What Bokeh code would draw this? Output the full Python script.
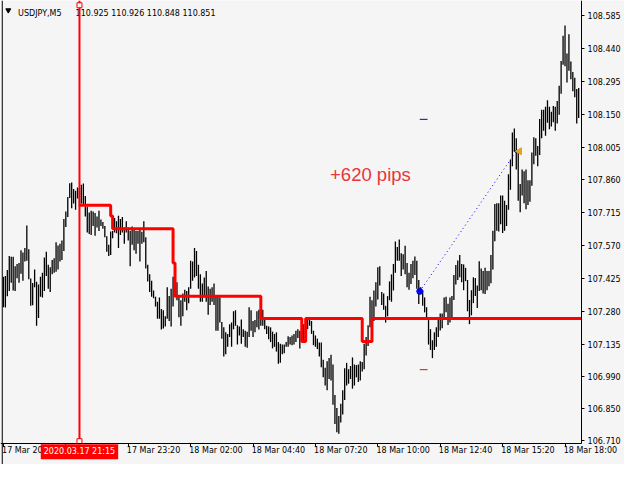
import numpy as np
from bokeh.plotting import figure
from bokeh.models import (FixedTicker, Span, Label, Range1d, PrintfTickFormatter,
                          ColumnDataSource, LinearAxis)
from bokeh.core.properties import value
from bokeh.embed import file_html
from bokeh.resources import INLINE

# ---------------- data ----------------
symbol = "USDJPY,M5"
header_prices = "110.925 110.926 110.848 110.851"

bar_high = [
    107.432, 107.436, 107.462, 107.524, 107.521, 107.521, 107.479, 107.489, 107.493, 107.550,
    107.540, 107.560, 107.659, 107.554, 107.425, 107.405, 107.465, 107.410, 107.398, 107.432,
    107.450, 107.517, 107.543, 107.486, 107.474, 107.507, 107.514, 107.585, 107.571, 107.578,
    107.593, 107.688, 107.721, 107.785, 107.846, 107.849, 107.820, 107.813, 107.827, 107.825,
    107.839, 107.844, 107.789, 107.742, 107.716, 107.724, 107.721, 107.714, 107.699, 107.724,
    107.685, 107.674, 107.657, 107.611, 107.574, 107.632, 107.635, 107.692, 107.678, 107.702,
    107.688, 107.696, 107.650, 107.678, 107.650, 107.635, 107.654, 107.642, 107.635, 107.635,
    107.642, 107.631, 107.678, 107.607,
    107.486, 107.443, 107.415, 107.372, 107.344, 107.322, 107.341, 107.290, 107.284, 107.258,
    107.386, 107.347, 107.379, 107.432, 107.408, 107.408, 107.347, 107.329, 107.358, 107.375,
    107.369, 107.386, 107.503, 107.500, 107.560, 107.546, 107.486, 107.443, 107.403, 107.429,
    107.458, 107.389, 107.379, 107.386, 107.403, 107.347, 107.344, 107.341, 107.233, 107.209,
    107.187, 107.180, 107.223, 107.230, 107.280, 107.284, 107.218, 107.213, 107.244, 107.201,
    107.194, 107.190, 107.298, 107.284, 107.237, 107.241, 107.280, 107.287, 107.298, 107.287,
    107.247, 107.216, 107.213, 107.209, 107.190, 107.180, 107.187, 107.144, 107.137, 107.133,
    107.133, 107.144, 107.170, 107.166, 107.173,
    107.180, 107.194, 107.201, 107.194, 107.244, 107.223, 107.251, 107.255, 107.255, 107.237,
    107.194, 107.173, 107.159, 107.142, 107.142, 107.066, 107.031, 107.059, 107.073, 107.088,
    107.045, 106.910, 106.853, 106.817, 106.871, 106.931, 107.028, 107.052, 107.024, 107.038,
    107.076, 107.045, 107.042, 107.045, 107.059, 107.056, 107.137, 107.166, 107.218, 107.344,
    107.329, 107.372, 107.408, 107.475, 107.479, 107.365, 107.358, 107.304, 107.347, 107.412,
    107.443, 107.489, 107.588, 107.564, 107.597, 107.536, 107.532, 107.569, 107.493, 107.450,
    107.489, 107.503, 107.522, 107.503, 107.418, 107.386, 107.372, 107.341, 107.298, 107.247,
    107.201, 107.152, 107.187, 107.209, 107.251,
    107.270, 107.270, 107.341, 107.344, 107.313, 107.341, 107.347, 107.440, 107.484, 107.504,
    107.529, 107.489, 107.487, 107.472, 107.418, 107.330, 107.373, 107.430, 107.427, 107.394,
    107.501, 107.469, 107.458, 107.472, 107.458, 107.458, 107.529, 107.636, 107.754, 107.757,
    107.757, 107.792, 107.792, 107.768, 107.750, 107.885, 107.949, 108.070, 108.087, 108.044,
    107.987, 107.842, 107.906, 107.899, 107.906, 107.859, 107.859, 107.982, 108.049, 108.044,
    108.010, 108.130, 108.170, 108.170, 108.184, 108.212, 108.184, 108.162, 108.187, 108.184,
    108.209, 108.276, 108.386, 108.497, 108.542, 108.419, 108.504, 108.383, 108.337, 108.312,
    108.262, 108.266,
]

bar_low = [
    107.298, 107.297, 107.346, 107.369, 107.406, 107.372, 107.369, 107.426, 107.406, 107.446,
    107.415, 107.500, 107.503, 107.422, 107.304, 107.307, 107.386, 107.216, 107.250, 107.344,
    107.341, 107.369, 107.436, 107.379, 107.365, 107.443, 107.450, 107.455, 107.465, 107.500,
    107.507, 107.546, 107.652, 107.696, 107.780, 107.735, 107.756, 107.728, 107.778, 107.742,
    107.756, 107.745, 107.699, 107.628, 107.621, 107.617, 107.657, 107.614, 107.650, 107.635,
    107.657, 107.645, 107.607, 107.543, 107.524, 107.529, 107.603, 107.628, 107.625, 107.560,
    107.617, 107.628, 107.578, 107.628, 107.593, 107.479, 107.574, 107.550, 107.534, 107.578,
    107.500, 107.578, 107.585, 107.469,
    107.411, 107.365, 107.344, 107.337, 107.301, 107.247, 107.247, 107.199, 107.204, 107.213,
    107.247, 107.237, 107.213, 107.301, 107.344, 107.329, 107.254, 107.216, 107.258, 107.322,
    107.284, 107.315, 107.379, 107.415, 107.429, 107.436, 107.379, 107.322, 107.322, 107.341,
    107.322, 107.265, 107.308, 107.322, 107.308, 107.194, 107.194, 107.230, 107.159, 107.080,
    107.090, 107.123, 107.166, 107.123, 107.201, 107.216, 107.133, 107.173, 107.137, 107.166,
    107.123, 107.119, 107.166, 107.194, 107.166, 107.187, 107.209, 107.199, 107.216, 107.216,
    107.201, 107.180, 107.156, 107.144, 107.116, 107.123, 107.102, 107.048, 107.052, 107.090,
    107.095, 107.123, 107.123, 107.133, 107.130,
    107.133, 107.144, 107.162, 107.116, 107.144, 107.147, 107.187, 107.201, 107.216, 107.180,
    107.130, 107.123, 107.113, 107.080, 107.033, 106.988, 106.952, 106.931, 106.981, 106.974,
    106.867, 106.782, 106.746, 106.739, 106.789, 106.824, 106.888, 106.952, 106.960, 106.981,
    106.938, 106.952, 106.988, 106.967, 106.974, 107.014, 107.024, 107.085, 107.127, 107.209,
    107.244, 107.237, 107.301, 107.332, 107.394, 107.308, 107.287, 107.230, 107.258, 107.329,
    107.322, 107.372, 107.450, 107.503, 107.503, 107.436, 107.465, 107.443, 107.386, 107.375,
    107.401, 107.426, 107.440, 107.379, 107.312, 107.355, 107.304, 107.275, 107.244, 107.133,
    107.109, 107.073, 107.109, 107.123, 107.166,
    107.195, 107.205, 107.245, 107.276, 107.219, 107.230, 107.247, 107.330, 107.398, 107.418,
    107.430, 107.408, 107.373, 107.413, 107.280, 107.223, 107.262, 107.316, 107.347, 107.294,
    107.370, 107.373, 107.358, 107.356, 107.373, 107.390, 107.404, 107.465, 107.589, 107.636,
    107.632, 107.664, 107.626, 107.636, 107.657, 107.728, 107.817, 107.921, 107.985, 107.906,
    107.768, 107.717, 107.792, 107.757, 107.731, 107.750, 107.764, 107.835, 107.930, 107.967,
    107.921, 107.970, 108.044, 108.077, 108.056, 108.113, 108.084, 108.096, 108.115, 108.077,
    108.110, 108.148, 108.241, 108.369, 108.362, 108.291, 108.343, 108.305, 108.252, 108.226,
    108.110, 108.134,
]

price_ticks = [108.585, 108.440, 108.295, 108.150, 108.005, 107.860, 107.715,
               107.570, 107.425, 107.280, 107.135, 106.990, 106.850, 106.710]

time_tick_bars = [0, 32, 64, 96, 128, 160, 192, 224, 256, 288]
time_tick_labels = ["17 Mar 20:40", "", "17 Mar 23:20", "18 Mar 02:00", "18 Mar 04:40",
                    "18 Mar 07:20", "18 Mar 10:00", "18 Mar 12:40", "18 Mar 15:20",
                    "18 Mar 18:00"]

vline_bar = 39
vline_label = "2020.03.17 21:15"

red_step_bars = [39, 55, 56, 87, 88, 132, 153, 155, 184, 189, 296.5]
red_step_levels = [107.748, 107.701, 107.645, 107.493, 107.346, 107.248, 107.146,
                   107.248, 107.146, 107.248, 107.248]

entry_bar, entry_price = 213.5, 107.368
exit_bar, exit_price = 263.0, 107.987
exit_arrow_bar = 264.6
tp_price, sl_price = 108.128, 107.022
level_mark_bars = [213.5, 217.5]
profit_text = "+620 pips"
profit_text_bar, profit_text_price = 167.5, 107.884

# ---------------- layout constants ----------------
BG = "#f5f5f5"
FONT = "DejaVu Sans"
FS = "8px"

# whole canvas is the frame; axes are pinned inside it
x_lo, x_hi = -1.5, 318.5          # canvas left .. right edge, in bar units
y_lo, y_hi = 106.603, 108.653     # canvas bottom .. top, in price units
bars_right = 296.5                # right edge of the bar area (price scale line)
bars_bottom = 106.697             # bottom edge of the bar area (time scale line)

p = figure(width=624, height=464, output_backend="svg", toolbar_location=None,
           x_range=Range1d(x_lo, x_hi), y_range=Range1d(y_lo, y_hi),
           x_axis_location=None, y_axis_location=None,
           min_border_left=0, min_border_right=0, min_border_top=0, min_border_bottom=0)
p.background_fill_color = BG
p.border_fill_color = BG
p.outline_line_color = None
p.xgrid.visible = False
p.ygrid.visible = False

# right price axis
ya = LinearAxis(fixed_location=bars_right, bounds=(bars_bottom, y_hi))
ya.ticker = FixedTicker(ticks=price_ticks, minor_ticks=[])
ya.formatter = PrintfTickFormatter(format="%.3f")
ya.axis_line_color = "black"
ya.major_tick_line_color = "black"
ya.major_tick_out = 3
ya.major_tick_in = 0
ya.minor_tick_line_color = None
ya.major_label_standoff = 3
ya.major_label_text_font = FONT
ya.major_label_text_font_size = FS
ya.major_label_text_color = "black"
p.add_layout(ya, "right")

# bottom time axis: line + tick marks
xa = LinearAxis(fixed_location=bars_bottom, bounds=(x_lo, bars_right))
xa.ticker = FixedTicker(ticks=[], minor_ticks=time_tick_bars)
xa.axis_line_color = "black"
xa.major_tick_line_color = None
xa.minor_tick_line_color = "black"
xa.minor_tick_out = 3
xa.minor_tick_in = 0
xa.major_label_text_font_size = "0px"
p.add_layout(xa, "below")

# bottom time axis: labels, left-aligned just after each tick
label_offset = 13
lab_ticks = [b + label_offset for b, t in zip(time_tick_bars, time_tick_labels) if t]
overrides = {b + label_offset: t for b, t in zip(time_tick_bars, time_tick_labels) if t}
xl = LinearAxis(fixed_location=bars_bottom)
xl.ticker = FixedTicker(ticks=lab_ticks, minor_ticks=[])
xl.major_label_overrides = overrides
xl.axis_line_color = None
xl.major_tick_line_color = None
xl.minor_tick_line_color = None
xl.major_tick_out = 0
xl.major_tick_in = 0
xl.major_label_standoff = 3
xl.major_label_text_font = FONT
xl.major_label_text_font_size = FS
xl.major_label_text_color = "black"
p.add_layout(xl, "below")

# left border
p.add_layout(Span(location=-0.6, dimension="height", line_color="black", line_width=1))

# bars (high-low)
idx = np.arange(len(bar_high))
src = ColumnDataSource(dict(x=idx, hi=bar_high, lo=bar_low))
p.segment(x0="x", y0="lo", x1="x", y1="hi", source=src, line_color="black", line_width=1.3)

# red step indicator
p.step(red_step_bars, red_step_levels, mode="after", line_color="#ff0000", line_width=3)

# trade line and markers
p.line([entry_bar, exit_bar], [entry_price, exit_price], line_color="#0000ff",
       line_width=1, line_dash="1 3")
p.scatter([entry_bar], [entry_price], marker="asterisk", size=7, line_color="#0000ff",
          line_width=2)
p.scatter([exit_bar], [exit_price], marker="circle", size=2, line_color="#0000ff",
          fill_color="#0000ff")
p.scatter([exit_arrow_bar], [exit_price], marker="triangle", angle=np.pi / 2, size=7,
          line_color="#daa520", fill_color="#daa520")
p.line(level_mark_bars, [tp_price, tp_price], line_color="#0000cc", line_width=1)
p.line(level_mark_bars, [sl_price, sl_price], line_color="#ff0000", line_width=1)

p.text([profit_text_bar], [profit_text_price], text=[profit_text],
       text_font=value("Liberation Sans"), text_font_size="18.5px",
       text_color="#e8343a", text_align="left", text_baseline="alphabetic")

# header
p.scatter([2.5], [108.610], marker="inverted_triangle", size=5, fill_color="black",
          line_color="black")
p.text([7.5], [108.597], text=[symbol], text_font=value(FONT), text_font_size=FS,
       text_color="black", text_align="left", text_baseline="alphabetic")
p.text([37.0], [108.597], text=[header_prices], text_font=value(FONT), text_font_size=FS,
       text_color="black", text_align="left", text_baseline="alphabetic")

# vertical line with handles and time label
p.segment([vline_bar], [bars_bottom], [vline_bar], [y_hi], line_color="#ff0000", line_width=2)
p.scatter([vline_bar, vline_bar], [108.632, 106.706], marker="square", size=5,
          line_color="#ff0000", fill_color=BG, line_width=1)
p.add_layout(Label(x=vline_bar, y=106.659, text=vline_label, text_align="center",
                   text_baseline="middle", text_font=FONT, text_font_size=FS,
                   text_color="white", background_fill_color="#ff0000", padding=3))

open("out.html", "w").write(file_html(p, INLINE))
